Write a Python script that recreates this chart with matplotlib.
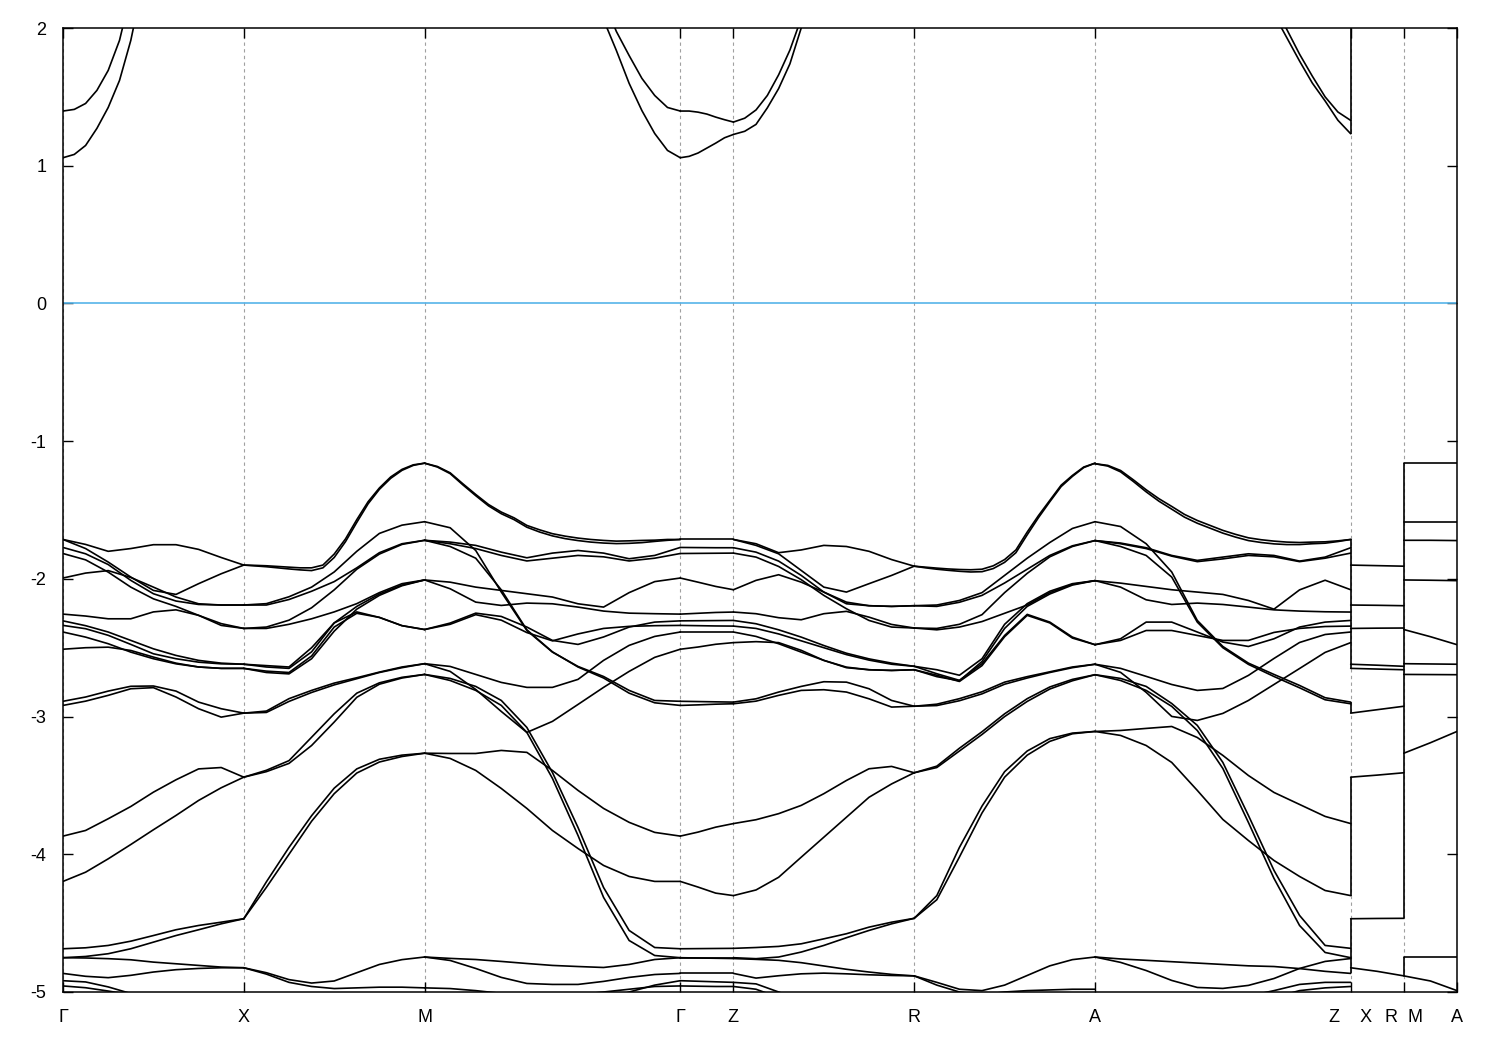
import numpy as np
import matplotlib
matplotlib.use("Agg")
import matplotlib.pyplot as plt

nan = np.nan

plt.rcParams['font.family'] = ['Liberation Sans', 'DejaVu Sans']
plt.rcParams['axes.unicode_minus'] = False

# k-path: segment lengths (2pi/a) and high-symmetry labels
seg_len = [0.5, 0.5, 0.7071, 0.147, 0.5, 0.5, 0.7071, 0.147, 0.147]
tick_labels = ["Γ", "X", "M", "Γ", "Z", "R", "A", "Z    X", "R  M", "A"]

# band energies (eV), read at evenly spaced k-points along each segment
# (each band may have its own number of points)
bands_GX = [
    [1.058, 1.082, 1.147, 1.271, 1.423, 1.619, 1.91, 2.3,
     nan, nan, nan, nan, nan, nan, nan, nan, nan],
    [1.397, 1.409, 1.452, 1.547, 1.692, 1.91, 2.25,
     nan, nan, nan, nan, nan, nan, nan, nan, nan, nan],
    [-1.714, -1.75, -1.80, -1.78, -1.752, -1.752, -1.786, -1.845, -1.90],
    [-1.714, -1.78, -1.878, -1.987, -2.084, -2.113, -2.035, -1.963, -1.90],
    [-1.772, -1.818, -1.896, -2.011, -2.108, -2.161, -2.186, -2.19, -2.19],
    [-1.816, -1.862, -1.951, -2.06, -2.145, -2.20, -2.265, -2.338, -2.36],
    [-1.994, -1.958, -1.94, -1.99, -2.06, -2.132, -2.181, -2.19, -2.19],
    [-2.256, -2.27, -2.29, -2.29, -2.24, -2.225, -2.265, -2.325, -2.36],
    [-2.305, -2.34, -2.386, -2.447, -2.508, -2.556, -2.592, -2.612, -2.62],
    [-2.338, -2.362, -2.41, -2.476, -2.544, -2.58, -2.605, -2.617, -2.62],
    [-2.386, -2.423, -2.471, -2.532, -2.58, -2.617, -2.64, -2.65, -2.65],
    [-2.511, -2.50, -2.496, -2.52, -2.568, -2.612, -2.64, -2.65, -2.65],
    [-2.889, -2.858, -2.815, -2.78, -2.778, -2.815, -2.895, -2.943, -2.975],
    [-2.919, -2.888, -2.846, -2.798, -2.79, -2.858, -2.943, -3.004, -2.975],
    [-3.868, -3.827, -3.742, -3.653, -3.549, -3.459, -3.38, -3.37, -3.44],
    [-4.197, -4.13, -4.033, -3.929, -3.822, -3.718, -3.609, -3.517, -3.44],
    [-4.686, -4.679, -4.662, -4.631, -4.59, -4.548, -4.517, -4.493, -4.468],
    [-4.751, -4.742, -4.722, -4.686, -4.638, -4.59, -4.548, -4.505, -4.468],
    [-4.751, -4.753, -4.758, -4.766, -4.783, -4.795, -4.807, -4.819, -4.824],
    [-4.865, -4.886, -4.896, -4.879, -4.855, -4.838, -4.829, -4.824, -4.824],
    [-4.918, -4.927, -4.963, -5.011, -5.06, nan, nan, nan, nan],
    [-4.956, -4.969, -4.993, -5.02, nan, nan, nan, nan, nan],
]

bands_XM = [
    [-1.90, -1.902, -1.905, -1.91, -1.915, -1.92, -1.92, -1.90, -1.82,
     -1.71, -1.57, -1.44, -1.34, -1.26, -1.205, -1.172, -1.16],
    [-1.90, -1.906, -1.912, -1.92, -1.928, -1.935, -1.94, -1.92, -1.845,
     -1.73, -1.59, -1.455, -1.35, -1.27, -1.212, -1.176, -1.16],
    [-2.19, -2.18, -2.13, -2.06, -1.95, -1.80, -1.67, -1.61, -1.585],
    [-2.19, -2.19, -2.15, -2.09, -2.02, -1.92, -1.81, -1.745, -1.72],
    [-2.36, -2.35, -2.30, -2.21, -2.08, -1.93, -1.82, -1.75, -1.72],
    [-2.36, -2.36, -2.33, -2.29, -2.24, -2.18, -2.10, -2.035, -2.008],
    [-2.62, -2.63, -2.64, -2.50, -2.32, -2.20, -2.11, -2.045, -2.008],
    [-2.62, -2.64, -2.65, -2.53, -2.32, -2.24, -2.28, -2.34, -2.368],
    [-2.65, -2.67, -2.68, -2.56, -2.35, -2.25, -2.28, -2.34, -2.368],
    [-2.65, -2.68, -2.69, -2.58, -2.38, -2.22, -2.12, -2.05, -2.008],
    [-2.975, -2.96, -2.87, -2.81, -2.757, -2.718, -2.677, -2.64, -2.616],
    [-2.975, -2.97, -2.89, -2.825, -2.77, -2.725, -2.68, -2.645, -2.616],
    [-3.44, -3.40, -3.34, -3.21, -3.04, -2.86, -2.765, -2.72, -2.694],
    [-3.44, -3.39, -3.32, -3.15, -2.98, -2.83, -2.755, -2.715, -2.694],
    [-4.468, -4.20, -3.95, -3.72, -3.52, -3.38, -3.31, -3.28, -3.266],
    [-4.468, -4.24, -4.00, -3.76, -3.56, -3.41, -3.33, -3.29, -3.266],
    [-4.824, -4.86, -4.91, -4.935, -4.92, -4.86, -4.80, -4.765, -4.746],
    [-4.824, -4.87, -4.93, -4.96, -4.975, -4.97, -4.965, -4.965, -4.97],
]

bands_MG = [
    [nan, nan, nan, nan, nan, nan, nan, nan, nan, nan, nan, nan, nan, nan,
     2.06, 1.837, 1.598, 1.40, 1.234, 1.111, 1.058],
    [nan, nan, nan, nan, nan, nan, nan, nan, nan, nan, nan, nan, nan, nan,
     2.2, 1.975, 1.80, 1.634, 1.51, 1.423, 1.397],
    [-1.16, -1.184, -1.23, -1.31, -1.387, -1.46, -1.515, -1.557, -1.612, -1.644,
     -1.672, -1.69, -1.704, -1.714, -1.721, -1.726, -1.724, -1.721, -1.719, -1.714, -1.714],
    [-1.16, -1.188, -1.236, -1.318, -1.396, -1.47, -1.527, -1.57, -1.625, -1.66,
     -1.688, -1.708, -1.722, -1.733, -1.74, -1.744, -1.742, -1.737, -1.728, -1.72, -1.714],
    [-1.585, -1.629, -1.794, -2.096, -2.375, -2.532, -2.636, -2.709, -2.81, -2.883, -2.889],
    [-1.72, -1.765, -1.85, -2.08, -2.37, -2.53, -2.64, -2.72, -2.83, -2.90, -2.919],
    [-1.72, -1.733, -1.757, -1.806, -1.847, -1.813, -1.794, -1.813, -1.854, -1.83, -1.772],
    [-1.72, -1.745, -1.78, -1.83, -1.87, -1.85, -1.83, -1.84, -1.87, -1.85, -1.816],
    [-2.008, -2.024, -2.06, -2.084, -2.108, -2.132, -2.181, -2.205, -2.10, -2.02, -1.994],
    [-2.008, -2.072, -2.169, -2.193, -2.176, -2.181, -2.205, -2.234, -2.249, -2.253, -2.256],
    [-2.368, -2.321, -2.249, -2.273, -2.35, -2.447, -2.476, -2.422, -2.35, -2.314, -2.305],
    [-2.616, -2.672, -2.803, -2.963, -3.115, -3.035, -2.912, -2.788, -2.672, -2.57, -2.511],
    [-2.616, -2.636, -2.694, -2.752, -2.788, -2.788, -2.73, -2.592, -2.483, -2.418, -2.386],
    [-2.368, -2.33, -2.26, -2.30, -2.39, -2.45, -2.40, -2.36, -2.345, -2.34, -2.338],
    [-2.694, -2.723, -2.781, -2.883, -3.079, -3.406, -3.805, -4.241, -4.553, -4.677, -4.686],
    [-2.694, -2.738, -2.81, -2.919, -3.115, -3.449, -3.863, -4.313, -4.626, -4.735, -4.751],
    [-3.266, -3.268, -3.268, -3.246, -3.26, -3.391, -3.536, -3.667, -3.768, -3.841, -3.868],
    [-3.266, -3.304, -3.391, -3.522, -3.667, -3.827, -3.958, -4.081, -4.161, -4.197, -4.197],
    [-4.746, -4.756, -4.764, -4.778, -4.793, -4.807, -4.815, -4.822, -4.80, -4.764, -4.751],
    [-4.746, -4.771, -4.829, -4.894, -4.938, -4.945, -4.945, -4.923, -4.894, -4.873, -4.865],
    [-4.97, -4.975, -4.99, -5.01, -5.03, -5.03, -5.02, -5.0, -4.98, -4.96, -4.956],
    [nan, nan, nan, nan, nan, nan, nan, -5.06, -5.0, -4.95, -4.918],
]

bands_GZ = [
    [1.058, 1.068, 1.092, 1.128, 1.164, 1.203, 1.227],
    [1.397, 1.397, 1.389, 1.375, 1.353, 1.334, 1.317],
    [-1.714, -1.714, -1.714, -1.714],
    [-1.772, -1.773, -1.774, -1.774],
    [-1.816, -1.815, -1.814, -1.813],
    [-1.994, -2.024, -2.055, -2.079],
    [-2.256, -2.25, -2.244, -2.241],
    [-2.305, -2.304, -2.303, -2.302],
    [-2.338, -2.34, -2.342, -2.343],
    [-2.386, -2.386, -2.386, -2.386],
    [-2.511, -2.495, -2.475, -2.463],
    [-2.889, -2.891, -2.893, -2.895],
    [-2.919, -2.915, -2.91, -2.907],
    [-3.868, -3.839, -3.803, -3.777],
    [-4.197, -4.238, -4.282, -4.30],
    [-4.686, -4.685, -4.684, -4.683],
    [-4.751, -4.751, -4.751, -4.751],
    [-4.751, -4.753, -4.755, -4.757],
    [-4.865, -4.865, -4.865, -4.865],
    [-4.918, -4.922, -4.926, -4.93],
    [-4.956, -4.958, -4.96, -4.96],
]

bands_ZR = [
    [1.227, 1.25, 1.30, 1.42, 1.56, 1.74, 2.0, 2.3,
     nan, nan, nan, nan, nan, nan, nan, nan, nan],
    [1.317, 1.345, 1.405, 1.51, 1.66, 1.84, 2.07,
     nan, nan, nan, nan, nan, nan, nan, nan, nan, nan],
    [-1.714, -1.745, -1.81, -1.79, -1.757, -1.765, -1.80, -1.86, -1.908],
    [-1.714, -1.757, -1.818, -1.939, -2.06, -2.096, -2.035, -1.975, -1.908],
    [-1.774, -1.806, -1.871, -1.975, -2.096, -2.181, -2.195, -2.20, -2.195],
    [-1.813, -1.842, -1.91, -2.006, -2.12, -2.217, -2.302, -2.35, -2.357],
    [-2.079, -2.011, -1.97, -2.024, -2.096, -2.169, -2.195, -2.20, -2.195],
    [-2.241, -2.253, -2.282, -2.297, -2.253, -2.236, -2.278, -2.331, -2.357],
    [-2.302, -2.326, -2.37, -2.423, -2.484, -2.54, -2.581, -2.612, -2.635],
    [-2.343, -2.36, -2.40, -2.45, -2.50, -2.55, -2.59, -2.62, -2.635],
    [-2.386, -2.418, -2.471, -2.532, -2.592, -2.641, -2.66, -2.665, -2.66],
    [-2.463, -2.456, -2.463, -2.519, -2.592, -2.645, -2.66, -2.665, -2.66],
    [-2.895, -2.871, -2.822, -2.781, -2.747, -2.75, -2.798, -2.883, -2.925],
    [-2.907, -2.888, -2.846, -2.81, -2.805, -2.822, -2.871, -2.931, -2.925],
    [-3.777, -3.749, -3.705, -3.645, -3.56, -3.464, -3.379, -3.362, -3.408],
    [-4.30, -4.259, -4.167, -4.021, -3.876, -3.731, -3.586, -3.489, -3.408],
    [-4.683, -4.677, -4.669, -4.65, -4.614, -4.577, -4.529, -4.493, -4.465],
    [-4.751, -4.758, -4.746, -4.71, -4.662, -4.606, -4.553, -4.505, -4.465],
    [-4.757, -4.763, -4.77, -4.787, -4.811, -4.835, -4.855, -4.872, -4.883],
    [-4.865, -4.899, -4.882, -4.868, -4.863, -4.868, -4.875, -4.88, -4.883],
    [-4.93, -4.941, -5.0, -5.06, nan, nan, nan, nan, nan],
    [-4.96, -4.98, -5.04, nan, nan, nan, nan, nan, nan],
]

bands_RA = [
    [-1.908, -1.915, -1.922, -1.928, -1.932, -1.934, -1.93, -1.905, -1.86,
     -1.79, -1.66, -1.54, -1.43, -1.32, -1.249, -1.188, -1.16],
    [-1.908, -1.92, -1.93, -1.938, -1.945, -1.95, -1.948, -1.925, -1.88,
     -1.81, -1.68, -1.555, -1.44, -1.33, -1.256, -1.192, -1.16],
    [-2.195, -2.19, -2.157, -2.10, -1.975, -1.85, -1.736, -1.634, -1.585],
    [-2.195, -2.20, -2.17, -2.12, -2.03, -1.93, -1.83, -1.76, -1.722],
    [-2.357, -2.36, -2.33, -2.26, -2.10, -1.96, -1.84, -1.765, -1.722],
    [-2.357, -2.37, -2.35, -2.31, -2.25, -2.19, -2.10, -2.04, -2.013],
    [-2.635, -2.66, -2.70, -2.58, -2.33, -2.18, -2.09, -2.035, -2.013],
    [-2.635, -2.689, -2.737, -2.616, -2.411, -2.258, -2.314, -2.423, -2.478],
    [-2.66, -2.70, -2.745, -2.63, -2.42, -2.265, -2.32, -2.43, -2.478],
    [-2.66, -2.71, -2.74, -2.60, -2.36, -2.20, -2.11, -2.045, -2.013],
    [-2.925, -2.91, -2.87, -2.82, -2.75, -2.71, -2.675, -2.64, -2.62],
    [-2.925, -2.92, -2.885, -2.835, -2.765, -2.72, -2.68, -2.645, -2.62],
    [-3.408, -3.37, -3.25, -3.13, -3.0, -2.89, -2.80, -2.74, -2.696],
    [-3.408, -3.36, -3.23, -3.11, -2.98, -2.87, -2.785, -2.73, -2.696],
    [-4.465, -4.30, -3.95, -3.65, -3.40, -3.25, -3.16, -3.12, -3.108],
    [-4.465, -4.33, -4.02, -3.70, -3.44, -3.28, -3.18, -3.125, -3.108],
    [-4.883, -4.93, -4.98, -4.99, -4.95, -4.88, -4.81, -4.765, -4.746],
    [-4.883, -4.95, -5.0, -5.02, -5.0, -4.99, -4.985, -4.98, -4.98],
]

bands_AZ = [
    [nan, nan, nan, nan, nan, nan, nan, nan, nan, nan, nan, nan, nan, nan,
     2.1, 1.93, 1.76, 1.60, 1.47, 1.33, 1.232],
    [nan, nan, nan, nan, nan, nan, nan, nan, nan, nan, nan, nan, nan, nan,
     2.17, 1.99, 1.81, 1.65, 1.50, 1.39, 1.329],
    [-1.164, -1.176, -1.213, -1.281, -1.353, -1.418, -1.474, -1.532, -1.576, -1.612,
     -1.648, -1.677, -1.702, -1.716, -1.726, -1.733, -1.736, -1.733, -1.731, -1.724, -1.714],
    [-1.164, -1.181, -1.223, -1.293, -1.368, -1.436, -1.494, -1.552, -1.596, -1.632,
     -1.668, -1.697, -1.722, -1.736, -1.746, -1.751, -1.751, -1.745, -1.741, -1.729, -1.714],
    [-1.585, -1.62, -1.745, -1.95, -2.302, -2.491, -2.612, -2.694, -2.774, -2.863, -2.895],
    [-1.722, -1.765, -1.83, -1.987, -2.314, -2.50, -2.621, -2.709, -2.791, -2.878, -2.907],
    [-1.722, -1.74, -1.774, -1.83, -1.866, -1.842, -1.818, -1.83, -1.871, -1.842, -1.774],
    [-1.722, -1.745, -1.78, -1.835, -1.875, -1.855, -1.83, -1.84, -1.875, -1.85, -1.813],
    [-2.013, -2.031, -2.055, -2.079, -2.096, -2.113, -2.157, -2.22, -2.08, -2.01, -2.079],
    [-2.013, -2.06, -2.152, -2.186, -2.176, -2.186, -2.205, -2.225, -2.234, -2.239, -2.241],
    [-2.478, -2.435, -2.314, -2.314, -2.386, -2.459, -2.491, -2.435, -2.35, -2.314, -2.302],
    [-2.62, -2.679, -2.824, -2.999, -3.028, -2.977, -2.883, -2.767, -2.651, -2.534, -2.463],
    [-2.62, -2.65, -2.708, -2.767, -2.81, -2.796, -2.701, -2.578, -2.462, -2.404, -2.386],
    [-2.478, -2.447, -2.375, -2.375, -2.411, -2.447, -2.447, -2.389, -2.36, -2.346, -2.343],
    [-2.696, -2.723, -2.781, -2.905, -3.064, -3.333, -3.718, -4.117, -4.444, -4.662, -4.683],
    [-2.696, -2.738, -2.81, -2.926, -3.101, -3.377, -3.769, -4.175, -4.517, -4.713, -4.751],
    [-3.108, -3.101, -3.086, -3.072, -3.152, -3.282, -3.428, -3.551, -3.638, -3.725, -3.777],
    [-3.108, -3.137, -3.21, -3.333, -3.536, -3.747, -3.90, -4.045, -4.161, -4.263, -4.30],
    [-4.746, -4.785, -4.844, -4.916, -4.967, -4.974, -4.952, -4.902, -4.829, -4.778, -4.757],
    [-4.746, -4.76, -4.77, -4.78, -4.79, -4.80, -4.81, -4.815, -4.83, -4.85, -4.865],
    [nan, nan, nan, nan, nan, -5.06, -5.03, -4.99, -4.945, -4.93, -4.93],
    [nan, nan, nan, nan, nan, nan, nan, -5.04, -4.99, -4.97, -4.96],
]

bands_XR = [
    [-1.90, -1.904, -1.908],
    [-2.19, -2.192, -2.195],
    [-2.36, -2.358, -2.357],
    [-2.62, -2.627, -2.635],
    [-2.65, -2.655, -2.66],
    [-2.975, -2.95, -2.925],
    [-3.44, -3.425, -3.408],
    [-4.468, -4.466, -4.465],
    [-4.824, -4.85, -4.883],
]

bands_MA = [
    [-1.16, -1.16, -1.16],
    [-1.585, -1.585, -1.585],
    [-1.72, -1.72, -1.722],
    [-2.008, -2.01, -2.013],
    [-2.368, -2.42, -2.478],
    [-2.616, -2.618, -2.62],
    [-2.694, -2.695, -2.696],
    [-3.266, -3.19, -3.108],
    [-4.746, -4.746, -4.746],
    [-4.883, -4.92, -4.99],
]

# vertical jumps at the path breaks Z|X and R|M: (E_start, E_end)
jumps_ZX = [(1.232, 2.5), (-1.714, -2.65), (-2.895, -2.975), (-3.44, -4.30), (-4.468, -4.865)]
jumps_RM = [(-1.16, -4.465), (-4.746, -4.883)]

fermi_level = 0.0

segments = [bands_GX, bands_XM, bands_MG, bands_GZ, bands_ZR,
            bands_RA, bands_AZ, bands_XR, bands_MA]
ticks = np.concatenate([[0.0], np.cumsum(seg_len)])

fig = plt.figure(figsize=(15, 10.5), dpi=100)
ax = fig.add_axes([63 / 1500, 58 / 1050, 1394 / 1500, 964 / 1050])

for i, seg in enumerate(segments):
    for band in seg:
        k = np.linspace(ticks[i], ticks[i + 1], len(band))
        ax.plot(k, band, color='black', lw=1.2,
                solid_joinstyle='round', solid_capstyle='round')

for e0, e1 in jumps_ZX:
    ax.vlines(ticks[7], e0, e1, color='black', lw=1.2)
for e0, e1 in jumps_RM:
    ax.vlines(ticks[8], e0, e1, color='black', lw=1.2)

ax.axhline(fermi_level, color='#56b4e9', lw=1.2)

ax.set_xlim(ticks[0], ticks[-1])
ax.set_ylim(-5, 2)
ax.set_xticks(ticks)
ax.set_xticklabels(tick_labels)
ax.set_yticks(np.arange(-5, 3))
ax.grid(axis='x', color='#a0a0a0', linestyle=(0, (3, 3)), lw=0.8)
ax.set_axisbelow(True)
ax.tick_params(direction='in', length=7, width=1, top=True, right=True,
               labelsize=13)
ax.tick_params(axis='x', pad=12)
ax.tick_params(axis='y', pad=12)
for s in ax.spines.values():
    s.set_linewidth(1.1)

fig.savefig('out.png', dpi=100)
